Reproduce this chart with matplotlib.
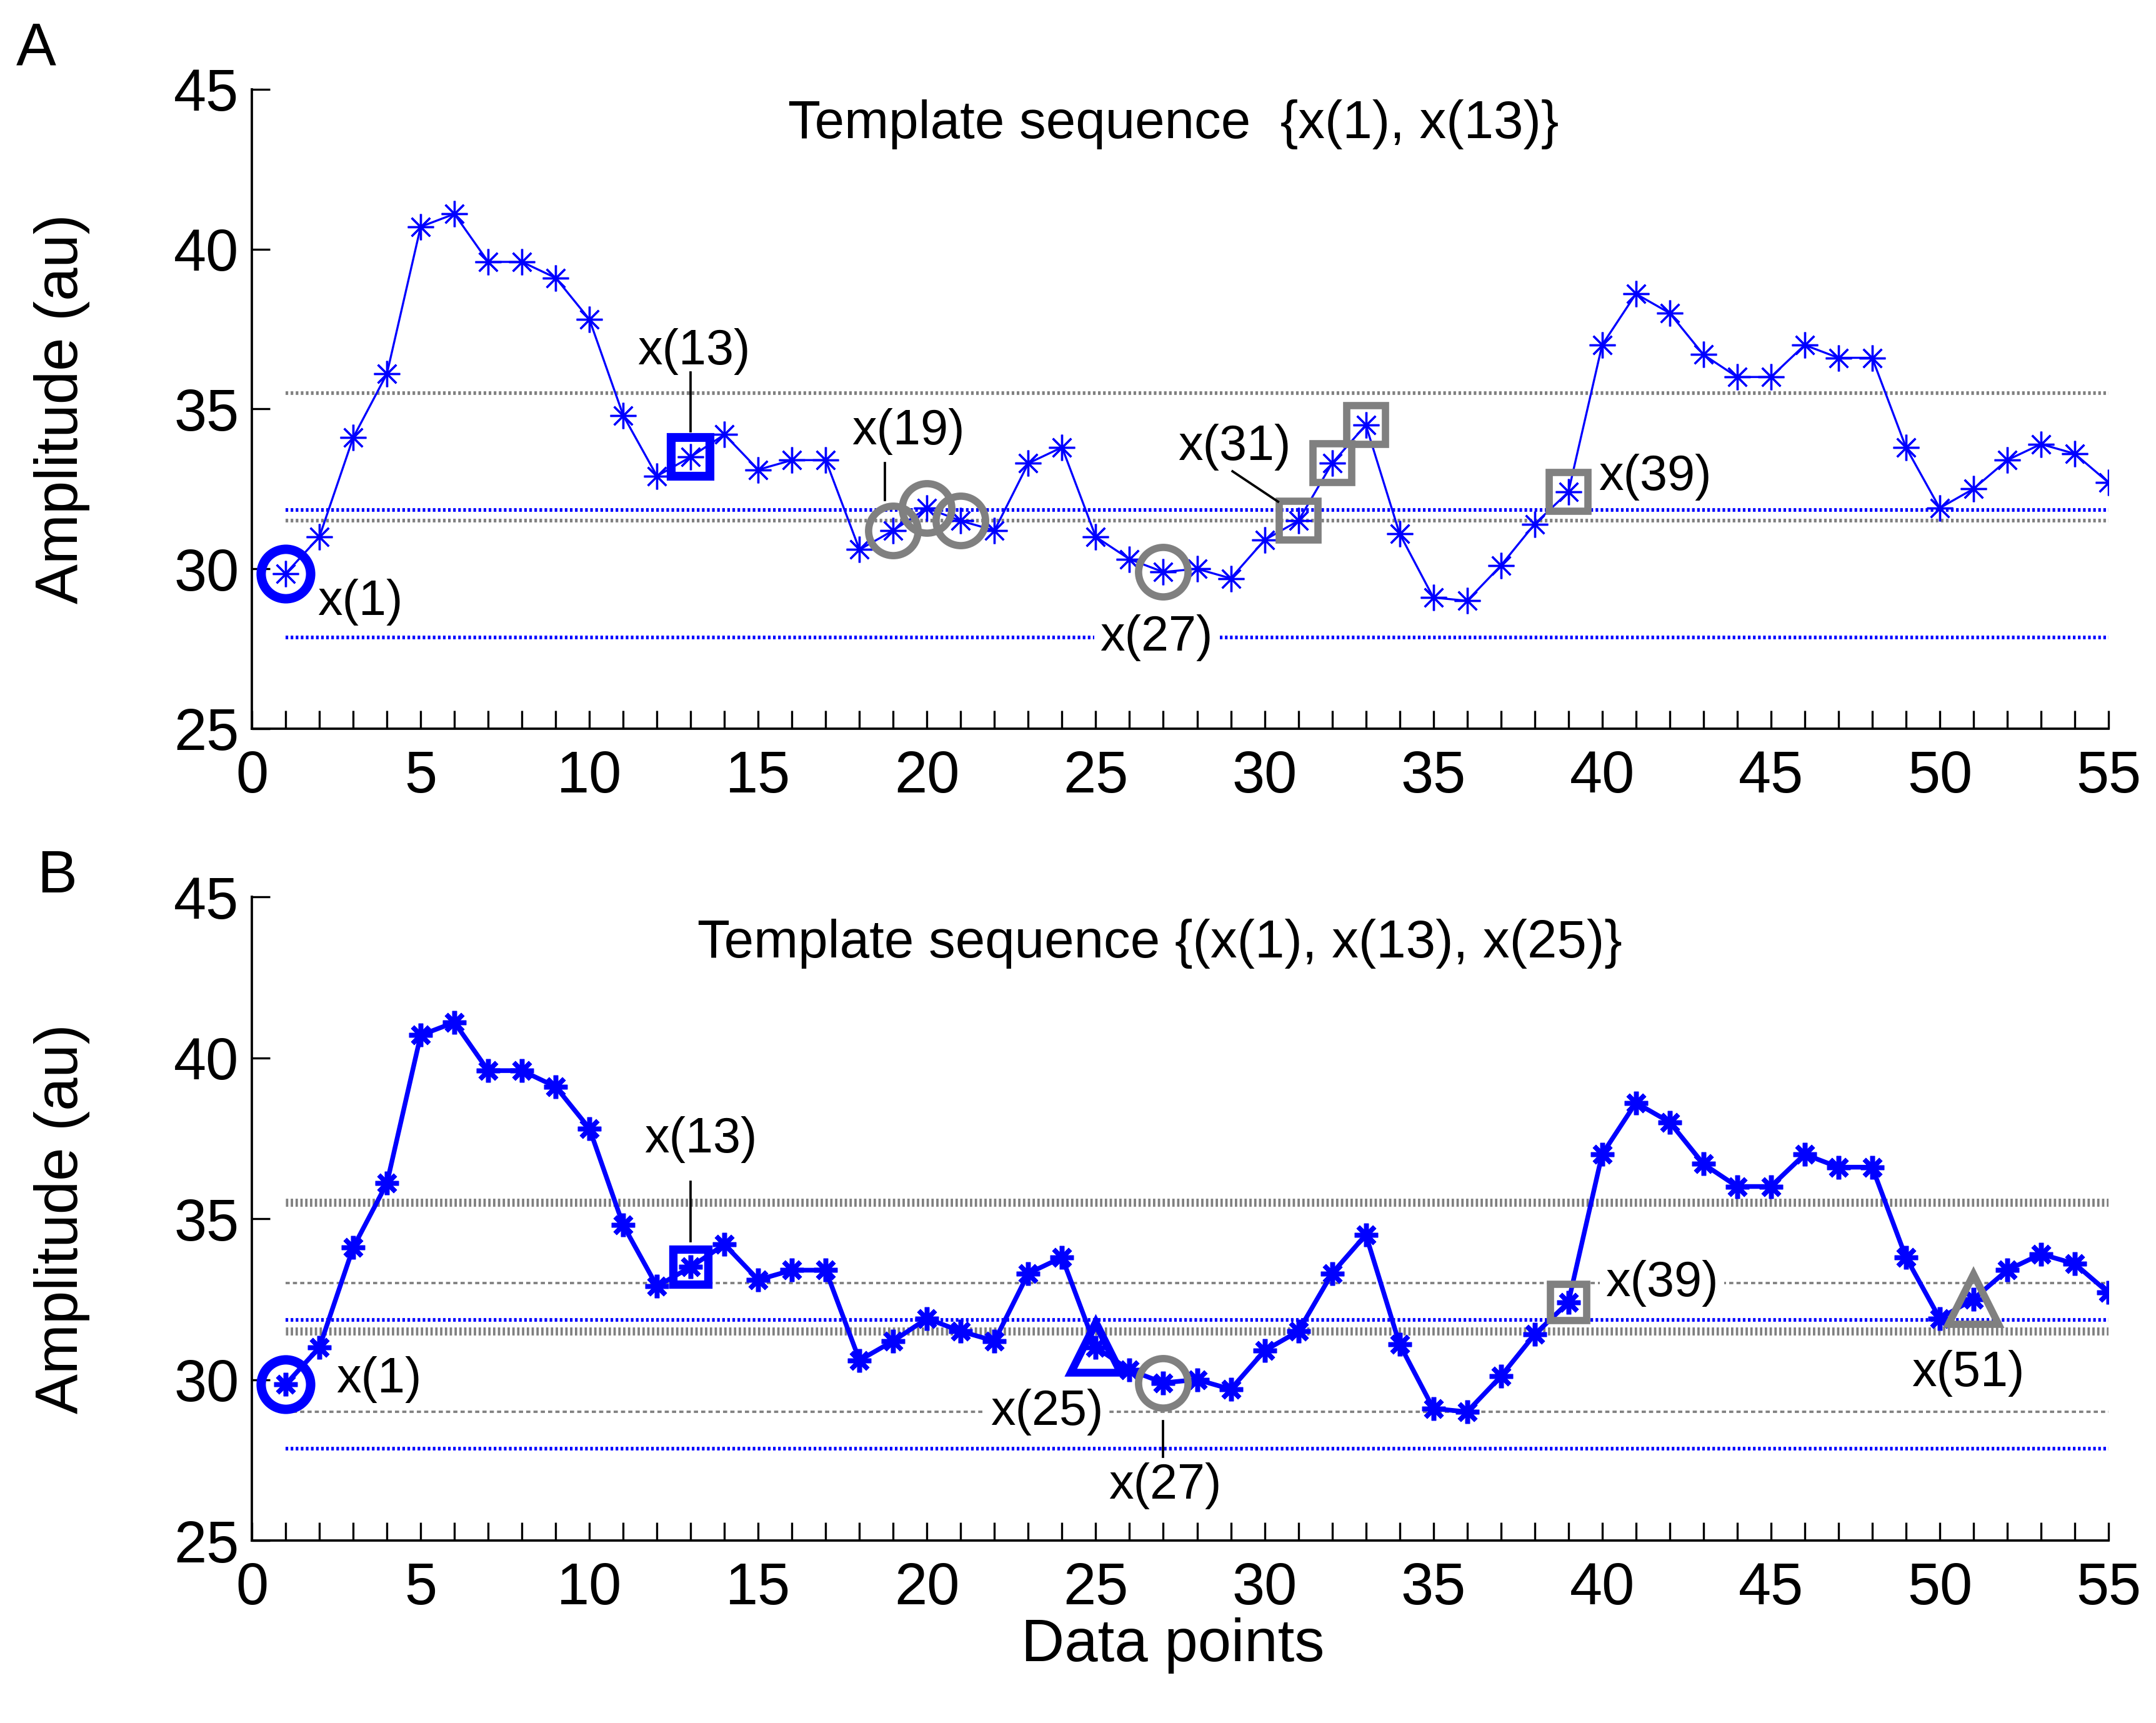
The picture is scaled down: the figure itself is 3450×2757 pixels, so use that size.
import numpy as np
import matplotlib
matplotlib.use('Agg')
import matplotlib.pyplot as plt
from matplotlib.ticker import MultipleLocator

plt.rcParams['font.family'] = ['Liberation Sans', 'DejaVu Sans']
plt.rcParams['lines.scale_dashes'] = False

# data
points = np.arange(1, 56)
amplitude = [29.85, 31.0, 34.1, 36.1, 40.7, 41.1, 39.6, 39.6, 39.1, 37.8,
             34.8, 32.9, 33.5, 34.2, 33.1, 33.4, 33.4, 30.6, 31.2, 31.9,
             31.5, 31.2, 33.3, 33.8, 31.0, 30.3, 29.9, 30.0, 29.7, 30.9,
             31.5, 33.3, 34.5, 31.1, 29.1, 29.0, 30.1, 31.4, 32.4, 37.0,
             38.6, 38.0, 36.7, 36.0, 36.0, 37.0, 36.6, 36.6, 33.8, 31.9,
             32.5, 33.4, 33.9, 33.6, 32.7]
tolerance = 2.0

# template points and their matches
a_circle_match = [19, 20, 21, 27]
a_square_match = [31, 32, 33, 39]
b_circle_match = [27]
b_square_match = [39]
b_triangle_match = [51]

title_a = 'Template sequence  {x(1), x(13)}'
title_b = 'Template sequence {(x(1), x(13), x(25)}'

BLUE = (0, 0, 1)
GRAY = (0.5, 0.5, 0.5)
ASTER = (8, 2, 0)

amp = np.array(amplitude)


def val(i):
    return amp[i - 1]


def style_axes(ax):
    ax.set_xlim(0, 55)
    ax.set_ylim(25, 45)
    for s in ['top', 'right']:
        ax.spines[s].set_visible(False)
    for s in ['left', 'bottom']:
        ax.spines[s].set_linewidth(0.9)
    ax.xaxis.set_major_locator(MultipleLocator(5))
    ax.xaxis.set_minor_locator(MultipleLocator(1))
    ax.yaxis.set_major_locator(MultipleLocator(5))
    ax.tick_params(which='both', direction='in', length=7, width=0.8,
                   top=False, right=False, labelsize=22.5)
    ax.tick_params(axis='x', pad=8)
    ax.tick_params(axis='y', pad=5)


def band(ax, center, color, lw, dash):
    for y in (center + tolerance, center - tolerance):
        ax.hlines(y, 1, 55, colors=[color], linewidth=lw,
                  linestyles=[(0, dash)], zorder=1)


def mark(ax, idx, marker, color, ms, mew):
    idx = list(idx)
    ax.plot(idx, [val(i) for i in idx], linestyle='none', marker=marker,
            ms=ms, mew=mew, mec=color, mfc='none', zorder=4)


def label(ax, x, y, s, ha='center', bg=False):
    kw = {}
    if bg:
        kw['bbox'] = dict(boxstyle='square,pad=0.12', fc='white', ec='none')
    ax.text(x, y, s, ha=ha, va='center', fontsize=19, zorder=5, **kw)


def leader(ax, xs, ys):
    ax.plot(xs, ys, color='black', lw=0.9, zorder=5)


fig = plt.figure(figsize=(11.503, 9.19), dpi=300)
ax_a = fig.add_axes([0.1168, 0.5771, 0.8609, 0.3711])
ax_b = fig.add_axes([0.1168, 0.1059, 0.8609, 0.3736])

# ---- panel A
style_axes(ax_a)
band(ax_a, val(13), GRAY, 1.4, (1.0, 0.95))
band(ax_a, val(1), BLUE, 1.4, (1.0, 0.95))
ax_a.plot(points, amp, color=BLUE, lw=0.8, marker=ASTER, ms=10, mew=0.8,
          zorder=3)
mark(ax_a, [1], 'o', BLUE, 19, 3.6)
mark(ax_a, [13], 's', BLUE, 15, 3.4)
mark(ax_a, a_circle_match, 'o', GRAY, 19, 2.8)
mark(ax_a, a_square_match, 's', GRAY, 15, 2.8)

ax_a.text(27.3, 43.9, title_a, ha='center', va='center', fontsize=20.5)
label(ax_a, 1.95, 28.95, 'x(1)', ha='left')
label(ax_a, 13.1, 36.8, 'x(13)')
leader(ax_a, [13.0, 13.0], [36.15, 34.3])
label(ax_a, 19.45, 34.3, 'x(19)')
leader(ax_a, [18.75, 18.75], [33.3, 32.15])
label(ax_a, 26.8, val(1) - tolerance, 'x(27)', bg=True)
label(ax_a, 29.1, 33.8, 'x(31)')
leader(ax_a, [29.05, 30.4], [33.05, 32.1])
label(ax_a, 39.9, 32.87, 'x(39)', ha='left')

# ---- panel B
style_axes(ax_b)
band(ax_b, val(25), GRAY, 0.9, (1.6, 1.2))
band(ax_b, val(13), GRAY, 3.1, (0.9, 0.95))
band(ax_b, val(1), BLUE, 1.4, (1.0, 0.95))
ax_b.plot(points, amp, color=BLUE, lw=1.8, marker=ASTER, ms=9, mew=1.8,
          zorder=3)
mark(ax_b, [1], 'o', BLUE, 19, 3.6)
mark(ax_b, [13], 's', BLUE, 13.5, 3.2)
mark(ax_b, [25], '^', BLUE, 19, 3.0)
mark(ax_b, b_circle_match, 'o', GRAY, 19, 2.8)
mark(ax_b, b_square_match, 's', GRAY, 14, 2.8)
mark(ax_b, b_triangle_match, '^', GRAY, 19, 2.8)

ax_b.text(26.9, 43.55, title_b, ha='center', va='center', fontsize=20.5)
label(ax_b, 2.5, 30.0, 'x(1)', ha='left')
label(ax_b, 13.3, 37.45, 'x(13)')
leader(ax_b, [13.0, 13.0], [36.15, 34.3])
label(ax_b, 23.55, val(25) - tolerance, 'x(25)', bg=True)
label(ax_b, 27.05, 26.7, 'x(27)')
leader(ax_b, [27.0, 27.0], [28.7, 27.6])
label(ax_b, 40.1, val(25) + tolerance, 'x(39)', ha='left', bg=True)
label(ax_b, 50.85, 30.2, 'x(51)')

# panel letters and axis labels
fig.text(26 / 3451, 1 - 33 / 2757, 'A', ha='left', va='top', fontsize=23)
fig.text(59 / 3451, 1 - 1358 / 2757, 'B', ha='left', va='top', fontsize=23)
fig.text(99 / 3451, 0.7628, 'Amplitude (au)', rotation=90,
         ha='center', va='center', fontsize=23)
fig.text(99 / 3451, 0.2927, 'Amplitude (au)', rotation=90,
         ha='center', va='center', fontsize=23)
fig.text(0.5439, 0.045, 'Data points', ha='center', va='center', fontsize=23)

fig.savefig('out.png', dpi=300)
